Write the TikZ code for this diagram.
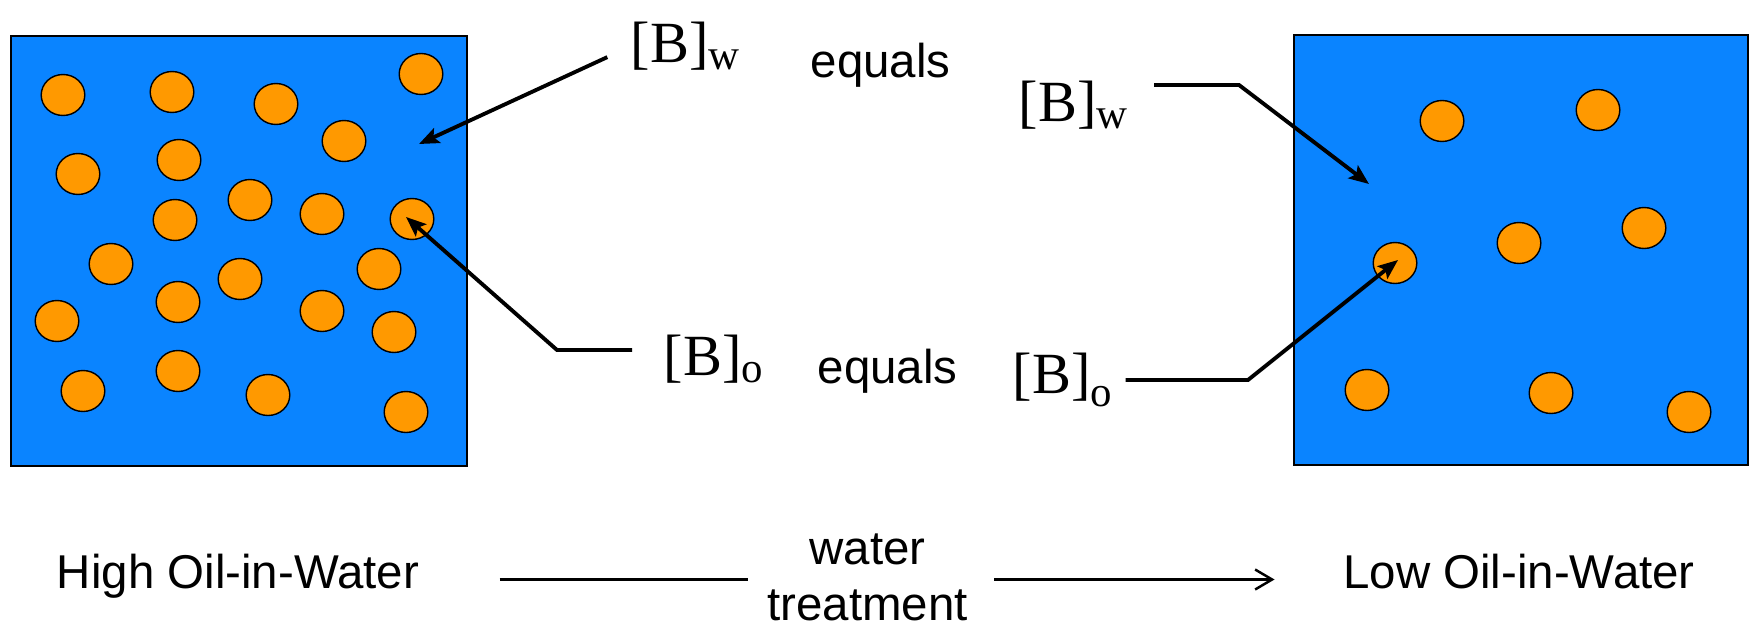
\documentclass[tikz,border=0pt]{standalone}
\usepackage{fontspec}
\setmainfont{Liberation Sans}
\newfontfamily\timesfont{Liberation Serif}
\usetikzlibrary{arrows.meta}

\definecolor{waterblue}{RGB}{10,132,255}
\definecolor{oilorange}{RGB}{255,153,0}
\newcommand{\conc}[2][0.7mm]{[B]\raisebox{-#1}{\fontsize{12.2}{13}\selectfont #2}}

\begin{document}
\begin{tikzpicture}[
        tank/.style={draw=black, fill=waterblue, line width=0.5pt},
        drop/.style={draw=black, fill=oilorange, line width=0.4pt},
        plaintext/.style={inner sep=0pt, font=\fontsize{13.5}{15.9}\selectfont, text height=0.73em, text depth=0.21em},
        conctext/.style={inner sep=0pt, anchor=base west, font=\timesfont\fontsize{16.6}{19}\selectfont},
        pointer/.style={line width=1.1pt, -{Stealth[length=2mm, width=1.6mm, inset=0.4mm]}},
        flow/.style={line width=0.7pt}
    ]
        \useasboundingbox (0,0) rectangle (17.5,6.26);

        % Tanks
        \draw[tank] (0.11,1.60) rectangle (4.67,5.90);
        \draw[tank] (12.94,1.61) rectangle (17.48,5.91);

        % Oil drops, high
        \foreach \x/\y in {0.63/5.31, 1.72/5.34, 2.76/5.22, 4.21/5.52, 3.44/4.85, 0.78/4.52,
                           1.79/4.66, 2.50/4.26, 1.75/4.06, 3.22/4.12, 4.12/4.07, 1.11/3.62,
                           2.40/3.47, 3.79/3.57, 0.57/3.05, 1.78/3.24, 3.22/3.15, 3.94/2.94,
                           0.83/2.35, 1.78/2.55, 2.68/2.31, 4.06/2.14}
            \draw[drop] (\x,\y) ellipse [x radius=0.218, y radius=0.205];

        % Oil drops, low
        \foreach \x/\y in {14.42/5.05, 15.98/5.16, 15.19/3.83, 16.44/3.98,
                           13.95/3.63, 13.67/2.36, 15.51/2.33, 16.89/2.14}
            \draw[drop] (\x,\y) ellipse [x radius=0.218, y radius=0.205];

        % Concentrations
        \node[conctext] (bwL) at (6.30,5.63) {\conc{w}};
        \node[plaintext, anchor=base west] (eqW) at (8.10,5.48) {equals};
        \node[conctext] (bwR) at (10.18,5.04) {\conc{w}};
        \node[conctext] (boL) at (6.63,2.51) {\conc{o}};
        \node[plaintext, anchor=base west] (eqO) at (8.17,2.43) {equals};
        \node[conctext] (boR) at (10.12,2.33) {\conc[1.3mm]{o}};

        % Arrow ends and bends
        \coordinate (wL) at (4.19,4.82);
        \coordinate (oL) at (4.06,4.09);
        \coordinate (wR) at (13.69,4.42);
        \coordinate (oR) at (13.98,3.66);
        \coordinate (kinkOL) at (5.57,2.76);
        \coordinate (kinkWR) at (12.39,5.41);
        \coordinate (kinkOR) at (12.48,2.46);

        \draw[pointer, shorten <=2.5mm] (bwL.west) -- (wL);
        \draw[pointer, shorten <=3.1mm] (boL.west |- kinkOL) -- (kinkOL) -- (oL);
        \draw[pointer, shorten <=2.6mm] (bwR.east |- kinkWR) -- (kinkWR) -- (wR);
        \draw[pointer, shorten <=1.3mm] (boR.east |- kinkOR) -- (kinkOR) -- (oR);

        % Treatment
        \node[plaintext] (high) at (2.38,0.465) {High Oil-in-Water};
        \node[inner sep=0pt, align=center, font=\fontsize{13.5}{15.9}\selectfont] (treat) at (8.675,0.49) {water\\treatment};
        \node[plaintext] (low) at (15.19,0.465) {Low Oil-in-Water};

        \draw[flow, shorten <=8.0mm, shorten >=1.9mm] (high.east) -- (high.east -| treat.west);
        \draw[flow, -{Straight Barb[length=1.7mm, width=2mm]}, shorten <=2.6mm, shorten >=6.8mm] (treat.east |- low.west) -- (low.west);
    \end{tikzpicture}
\end{document}
